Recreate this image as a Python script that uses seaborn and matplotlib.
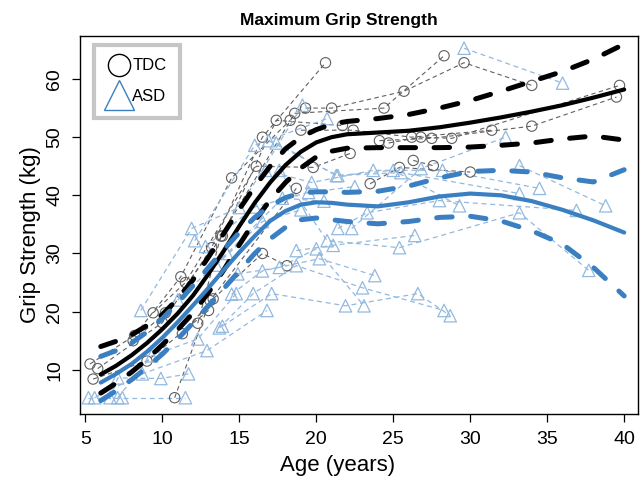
import numpy as np
import pandas as pd
import seaborn as sns
import matplotlib.pyplot as plt
from matplotlib.lines import Line2D

sns.set_style("ticks")
plt.rcParams['font.family'] = ['Liberation Sans', 'DejaVu Sans']
plt.rcParams['text.color'] = 'black'
plt.rcParams['axes.labelcolor'] = 'black'
plt.rcParams['xtick.color'] = 'black'
plt.rcParams['ytick.color'] = 'black'
plt.rcParams['axes.edgecolor'] = 'black'

# smoothed fits
fit_age = [6, 7, 8, 9, 10, 11, 12, 13, 14, 15, 16, 17, 18, 19, 20, 21, 22,
           24, 26, 28, 30, 32, 34, 36, 38, 40]
tdc_mean = [9.2, 10.7, 12.5, 14.6, 17.0, 19.7, 22.8, 26.5, 30.5, 34.7, 38.7, 42.2, 45.2,
            47.5, 49.1, 50.0, 50.5, 50.8, 51.1, 51.7, 52.5, 53.4, 54.4, 55.5, 56.8, 58.2]
tdc_upper = [14.0, 14.9, 16.0, 17.6, 19.5, 22.2, 25.5, 29.4, 33.5, 37.6, 41.5, 45.0, 48.0,
             50.0, 51.3, 52.2, 52.7, 53.2, 53.9, 55.0, 56.3, 57.9, 59.6, 61.3, 63.4, 66.0]
tdc_lower = [6.0, 7.7, 9.6, 11.8, 14.3, 16.9, 19.8, 23.3, 27.2, 31.5, 35.6, 39.2, 42.2,
             44.7, 46.6, 47.6, 48.1, 48.2, 48.2, 48.2, 48.3, 48.6, 49.0, 49.7, 50.2, 49.5]
asd_mean = [7.8, 9.3, 11.0, 13.1, 15.5, 18.2, 21.1, 24.1, 27.2, 30.2, 33.0, 35.6, 37.3,
            38.4, 38.8, 38.7, 38.4, 38.1, 38.8, 39.8, 40.3, 40.0, 39.0, 37.5, 35.7, 33.6]
asd_upper = [12.3, 13.3, 14.6, 16.5, 18.8, 21.5, 24.5, 27.6, 30.7, 33.6, 36.2, 38.2, 39.6,
             40.4, 40.6, 40.6, 40.5, 40.7, 41.6, 43.0, 44.1, 44.3, 44.0, 43.0, 42.3, 44.4]
asd_lower = [4.7, 6.4, 8.3, 10.4, 12.7, 15.3, 18.1, 21.0, 24.0, 27.0, 30.0, 32.5, 34.5,
             35.8, 36.1, 35.8, 35.5, 35.1, 35.5, 36.2, 36.4, 35.6, 33.9, 31.6, 27.6, 22.7]

# individual trajectories: subject -> (ages, grip)
tdc_subjects = {
    "T1": ([5.5, 9.0, 13.0], [8.4, 11.5, 20.2]),
    "T2": ([5.3, 8.2, 11.2, 14.5, 18.3], [11.0, 15.9, 26.0, 43.0, 52.9]),
    "T3": ([5.8, 10.0, 13.2, 16.5, 20.6], [10.2, 18.1, 31.0, 50.0, 62.8]),
    "T4": ([8.1, 10.2, 13.9, 17.4, 21.7], [15.0, 19.8, 33.0, 52.9, 52.0]),
    "T5": ([9.4, 11.5, 16.1, 19.8, 22.2], [19.8, 25.0, 45.0, 44.8, 47.2]),
    "T6": ([10.8, 13.1, 18.7], [5.2, 21.9, 41.2]),
    "T7": ([11.3, 13.3, 16.5, 18.1], [16.2, 22.2, 30.0, 27.9]),
    "T8": ([12.3, 13.8, 18.6, 24.4, 28.3], [18.0, 33.0, 54.1, 55.0, 64.0]),
    "T9": ([19.3, 21.0, 25.7, 29.6, 34.0], [55.0, 55.0, 57.9, 62.8, 58.9]),
    "T10": ([19.0, 22.4, 26.2, 31.4], [51.2, 51.2, 50.0, 51.2]),
    "T11": ([24.1, 27.5, 34.0, 39.5], [49.4, 49.8, 51.9, 56.9]),
    "T12": ([23.5, 25.4, 30.0], [42.0, 44.8, 44.0]),
    "T13": ([24.7, 26.8, 28.8, 39.7], [49.0, 50.0, 49.8, 58.9]),
    "T14": ([26.3, 27.6], [46.0, 45.1]),
}
asd_subjects = {
    "A1": ([5.2, 7.4, 11.5], [5.2, 5.2, 5.2]),
    "A2": ([5.6, 8.7, 12.9, 16.8], [5.2, 9.3, 13.3, 20.2]),
    "A3": ([6.6, 7.1, 9.9, 11.7], [5.2, 8.6, 8.5, 9.3]),
    "A4": ([7.1, 9.3, 12.3, 14.8], [5.2, 12.4, 15.3, 23.1]),
    "A5": ([8.6, 11.9, 15.0, 19.1], [20.2, 34.3, 37.9, 55.5]),
    "A6": ([12.1, 16.0, 20.7], [32.2, 48.6, 53.2]),
    "A7": ([13.7, 15.9, 18.7, 23.0, 28.3], [17.2, 23.1, 27.9, 24.1, 20.2]),
    "A8": ([13.9, 17.1, 21.9, 26.6, 28.7], [17.5, 23.1, 21.0, 23.1, 19.3]),
    "A9": ([14.5, 16.5, 20.2, 23.8], [23.0, 27.0, 29.1, 26.2]),
    "A10": ([14.9, 17.6, 20.0, 23.1], [26.5, 27.6, 30.8, 21.0]),
    "A11": ([16.9, 21.4, 25.0, 29.3], [49.4, 43.4, 44.3, 38.2]),
    "A12": ([17.4, 21.3, 25.5, 33.2], [49.0, 43.4, 43.9, 40.3]),
    "A13": ([16.7, 19.7, 23.7, 28.2, 34.5], [44.3, 42.2, 44.3, 44.3, 41.2]),
    "A14": ([17.6, 20.7, 25.4, 33.2, 37.7], [44.3, 32.2, 31.0, 37.0, 27.1]),
    "A15": ([18.7, 21.1, 26.4], [30.5, 31.4, 33.1]),
    "A16": ([21.4, 23.3, 28.0, 36.9], [34.3, 37.0, 39.1, 37.4]),
    "A17": ([22.3, 26.8, 32.3], [34.3, 44.6, 50.0]),
    "A18": ([29.6, 36.0], [65.3, 59.3]),
    "A19": ([33.2, 38.8], [45.1, 38.2]),
    "A20": ([12.8, 16.0, 19.5, 22.5], [31.2, 38.0, 40.5, 41.5]),
    "A21": ([13.5, 16.5, 19.0], [28.0, 35.5, 37.5]),
    "A22": ([11.0, 14.2, 17.8, 20.5], [22.0, 30.0, 39.5, 39.0]),
}


def long_table(subjects):
    rows = []
    for sid, (ages, vals) in subjects.items():
        for a, v in zip(ages, vals):
            rows.append({"subject": sid, "age": a, "grip": v})
    return pd.DataFrame(rows)


tdc_df = long_table(tdc_subjects)
asd_df = long_table(asd_subjects)

blk = "#000000"
blue = "#3a7fc1"
blue_light = "#93b9df"
grey = "#606060"

fig = plt.figure(figsize=(6.42, 4.83), dpi=100)
ax = fig.add_axes([0.1246, 0.1429, 0.8692, 0.7826])

# thin dashed individual lines
sns.lineplot(data=tdc_df, x="age", y="grip", units="subject", estimator=None,
             color=grey, lw=0.8, linestyle=(0, (4, 3)), ax=ax)
sns.lineplot(data=asd_df, x="age", y="grip", units="subject", estimator=None,
             color=blue_light, lw=0.9, linestyle=(0, (4, 3)), ax=ax)

# points
sns.scatterplot(data=tdc_df, x="age", y="grip", marker="o", s=55, fc="none",
                ec=grey, linewidth=0.8, ax=ax, zorder=3)
sns.scatterplot(data=asd_df, x="age", y="grip", marker="^", s=80, fc="none",
                ec=blue_light, linewidth=0.9, ax=ax, zorder=3)

# fits
band_ls = (0, (3.1, 3.7))
sns.lineplot(x=fit_age, y=tdc_mean, color=blk, lw=3.0, ax=ax, zorder=5)
sns.lineplot(x=fit_age, y=tdc_upper, color=blk, lw=3.6, linestyle=band_ls,
             dash_capstyle="round", ax=ax, zorder=5)
sns.lineplot(x=fit_age, y=tdc_lower, color=blk, lw=3.6, linestyle=band_ls,
             dash_capstyle="round", ax=ax, zorder=5)
sns.lineplot(x=fit_age, y=asd_mean, color=blue, lw=3.0, ax=ax, zorder=5)
sns.lineplot(x=fit_age, y=asd_upper, color=blue, lw=3.6, linestyle=band_ls,
             dash_capstyle="round", ax=ax, zorder=5)
sns.lineplot(x=fit_age, y=asd_lower, color=blue, lw=3.6, linestyle=band_ls,
             dash_capstyle="round", ax=ax, zorder=5)

ax.set_xlim(4.65, 40.9)
ax.set_ylim(2.4, 67.4)
ax.set_xticks([5, 10, 15, 20, 25, 30, 35, 40])
ax.set_yticks([10, 20, 30, 40, 50, 60])
ax.tick_params(axis="both", labelsize=14, length=6, width=0.9, pad=6)
plt.setp(ax.get_yticklabels(), rotation=90, va="center")
for sp in ax.spines.values():
    sp.set_visible(True)
    sp.set_linewidth(1.0)
ax.set_xlabel("Age (years)", fontsize=16)
ax.set_ylabel("Grip Strength (kg)", fontsize=16)
ax.xaxis.set_label_coords(0.462, -0.108)
ax.yaxis.set_label_coords(-0.07, 0.474)
ax.set_title("Maximum Grip Strength", fontsize=12.5, fontweight="bold",
             x=0.464, pad=8)

handles = [
    Line2D([], [], marker="o", ls="none", ms=16, mfc="none", mec=blk, mew=1.0),
    Line2D([], [], marker="^", ls="none", ms=21, mfc="none", mec=blue, mew=1.0),
]
leg = ax.legend(handles, ["TDC", "ASD"], loc="upper left",
                bbox_to_anchor=(0.025, 0.976), borderaxespad=0, fontsize=12,
                frameon=True, fancybox=False, handlelength=1.4, handletextpad=0.1,
                labelspacing=0.95, borderpad=0.8)
leg.get_frame().set_edgecolor("#b8b8b8")
leg.get_frame().set_linewidth(3)

fig.savefig("out.png", dpi=100)
